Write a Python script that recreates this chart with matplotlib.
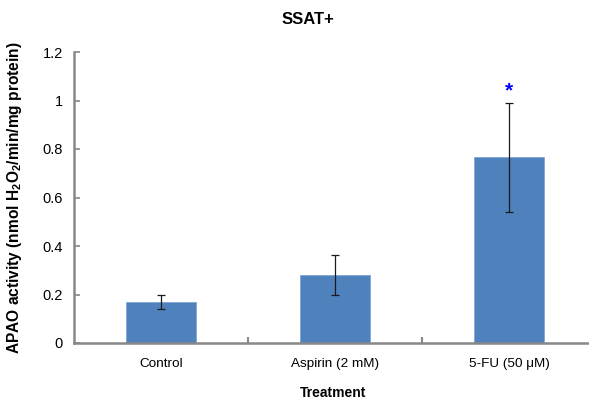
import matplotlib
matplotlib.use("Agg")
import matplotlib.pyplot as plt

categories = ["Control", "Aspirin (2 mM)", "5-FU (50 μM)"]
means = [0.17, 0.28, 0.765]
errors = [0.029, 0.083, 0.226]
yticks = [0, 0.2, 0.4, 0.6, 0.8, 1.0, 1.2]
ytick_labels = ["0", "0.2", "0.4", "0.6", "0.8", "1", "1.2"]
sig_marker_y = 1.04

plt.rcParams["font.family"] = ["Liberation Sans", "DejaVu Sans"]
plt.rcParams["mathtext.fontset"] = "custom"
plt.rcParams["mathtext.rm"] = "Liberation Sans:bold"
plt.rcParams["mathtext.it"] = "Liberation Sans:bold"
plt.rcParams["mathtext.bf"] = "Liberation Sans:bold"

fig = plt.figure(figsize=(5.89, 4.01), dpi=100)
ax = fig.add_axes([74 / 589, 58 / 401, 522 / 589, 291 / 401])

x = list(range(len(categories)))
ax.bar(x, means, width=0.4, color="#4F81BD", edgecolor="#7FA6D6", linewidth=0.6, zorder=2)
ax.errorbar(x, means, yerr=errors, fmt="none", ecolor="#1a1a1a", elinewidth=0.9,
            capsize=3, capthick=0.9, zorder=3)
ax.text(2, sig_marker_y, "*", color="#0000FF", ha="center", va="center",
        fontsize=15, fontweight="bold")

ax.set_xlim(-0.5, 2.5)
ax.set_ylim(0, 1.2)
ax.set_yticks(yticks)
ax.set_yticklabels(ytick_labels)
ax.set_xticks(x)
ax.set_xticklabels(categories)
ax.set_xticks([0.5, 1.5], minor=True)
ax.tick_params(axis="x", which="major", length=0, pad=11, labelsize=9.7)
ax.tick_params(axis="x", which="minor", direction="in", length=4, color="#888888", width=1.5)
ax.tick_params(axis="y", direction="in", length=4, color="#888888", width=1.2, labelsize=10.5, pad=8)

for side in ("top", "right"):
    ax.spines[side].set_visible(False)
for side in ("left", "bottom"):
    ax.spines[side].set_color("#888888")
    ax.spines[side].set_linewidth(1.8)

ax.set_ylabel(r"APAO activity (nmol H$_2$O$_2$/min/mg protein)", fontsize=11.2,
              fontweight="bold", labelpad=13)
fig.text(333 / 589, 1 - 393 / 401, "Treatment", ha="center", va="center",
         fontsize=10, fontweight="bold")
fig.text(308 / 589, 1 - 20 / 401, "SSAT+", ha="center", va="center",
         fontsize=12, fontweight="bold")

fig.savefig("out.png", dpi=100)
